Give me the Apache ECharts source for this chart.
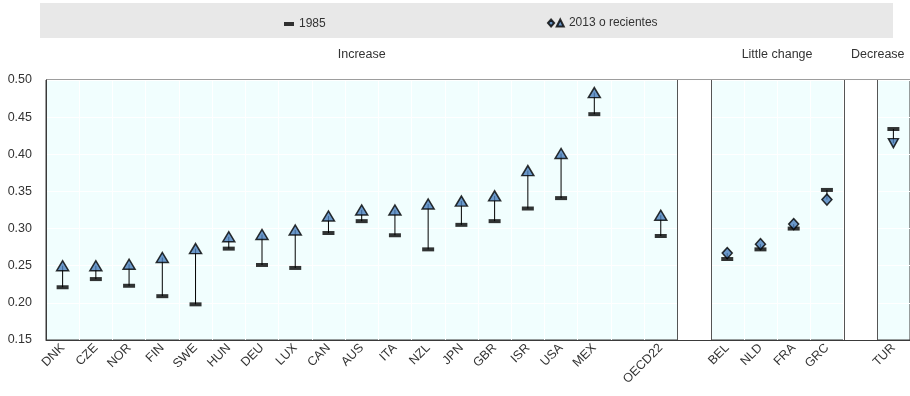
<!DOCTYPE html>
<html>
<head>
<meta charset="utf-8">
<script src="https://cdn.jsdelivr.net/npm/echarts@6/dist/echarts.min.js"></script>
<style>
  html, body { margin: 0; padding: 0; background: #ffffff; }
  #chart { width: 910px; height: 396px; }
</style>
</head>
<body>
<div id="chart"></div>
<script>
// Countries where inequality increased, with 1985 and 2013 (or latest) values
const increaseCountries = ['DNK','CZE','NOR','FIN','SWE','HUN','DEU','LUX','CAN','AUS','ITA','NZL','JPN','GBR','ISR','USA','MEX'];
const increase1985 = [0.221,0.232,0.223,0.209,0.198,0.273,0.251,0.247,0.294,0.310,0.291,0.272,0.305,0.310,0.327,0.341,0.454];
const increase2013 = [0.250,0.250,0.252,0.261,0.273,0.289,0.292,0.298,0.317,0.325,0.325,0.333,0.337,0.344,0.378,0.401,0.483];

// OECD average (part of the "Increase" block)
const oecdCountries = ['OECD22'];
const oecd1985 = [0.290];
const oecd2013 = [0.318];

// Little change
const littleCountries = ['BEL','NLD','FRA','GRC'];
const little1985 = [0.259,0.272,0.300,0.352];
const little2013 = [0.267,0.279,0.306,0.339];

// Decrease
const decreaseCountries = ['TUR'];
const decrease1985 = [0.434];
const decrease2013 = [0.415];

// Y axis ticks
const yTicks = [0.15, 0.20, 0.25, 0.30, 0.35, 0.40, 0.45, 0.50];

const groupTitles = ['Increase', 'Little change', 'Decrease'];
const seriesNames = ['1985', '2013 o recientes'];

// ---- build category axis: blank slots separate the blocks ----
const GAP = ' ', SEP1 = '  ', SEP2 = '   ';
const categories = [].concat(increaseCountries, [GAP], oecdCountries, [SEP1],
                             littleCountries, [SEP2], decreaseCountries);
const separatorSlots = [categories.indexOf(SEP1), categories.indexOf(SEP2)];

const values1985 = [].concat(increase1985, [null], oecd1985, [null], little1985, [null], decrease1985);
const values2013 = [].concat(increase2013, [null], oecd2013, [null], little2013, [null], decrease2013);
const shapeKind = [].concat(increaseCountries.map(() => 'up'), [null], oecdCountries.map(() => 'up'), [null],
                            littleCountries.map(() => 'flat'), [null], decreaseCountries.map(() => 'down'));

const groupRanges = [
  [increaseCountries[0], oecdCountries[oecdCountries.length - 1]],
  [littleCountries[0], littleCountries[littleCountries.length - 1]],
  [decreaseCountries[0], decreaseCountries[decreaseCountries.length - 1]]
];

const FONT = '"Liberation Sans", Arial, sans-serif';
const TEXT = '#333333';
const MARKER_BLUE = '#4a7ebb';

const yMin = yTicks[0], yMax = yTicks[yTicks.length - 1];

const chart = echarts.init(document.getElementById('chart'), null, { renderer: 'canvas' });

const option = {
  animation: false,
  textStyle: { fontFamily: FONT },
  graphic: [],
  legend: [
    {
      data: [seriesNames[0]],
      left: 279, top: 13,
      icon: 'rect', itemWidth: 10, itemHeight: 4, itemGap: 4,
      textStyle: { fontSize: 12, color: TEXT, fontFamily: FONT },
      selectedMode: false
    },
    {
      data: [seriesNames[1]],
      left: 542, top: 12,
      // small diamond followed by a small triangle
      icon: 'path://M0,4 L3.5,0 L7,4 L3.5,8 Z M10,8 L14,0 L18,8 Z',
      itemWidth: 16, itemHeight: 7, itemGap: 3,
      textStyle: { fontSize: 12, color: TEXT, fontFamily: FONT },
      selectedMode: false
    }
  ],
  grid: {
    left: 46, right: -2, top: 80, bottom: 56,
    show: true, backgroundColor: '#f1fefe',
    borderColor: '#3a3a3a', borderWidth: 1
  },
  xAxis: {
    type: 'category',
    data: categories,
    boundaryGap: true,
    axisLine: { show: true, lineStyle: { color: '#3a3a3a', width: 1 } },
    axisTick: { show: false },
    splitLine: { show: true, interval: 0, lineStyle: { color: '#ffffff', width: 1 } },
    axisLabel: {
      interval: 0, rotate: 45, margin: 6,
      fontSize: 12.5, color: TEXT, fontFamily: FONT
    }
  },
  yAxis: {
    type: 'value',
    min: yMin, max: yMax, interval: 0.05,
    axisLine: { show: true, lineStyle: { color: '#3a3a3a' } },
    axisTick: { show: false },
    splitLine: { show: true, lineStyle: { color: '#ffffff', width: 1 } },
    axisLabel: {
      margin: 14, fontSize: 12.5, color: TEXT, fontFamily: FONT,
      formatter: v => v.toFixed(2)
    }
  },
  series: [
    {
      // white separator slots between blocks
      type: 'custom',
      name: 'separators',
      silent: true,
      z: 1,
      data: separatorSlots.map(i => [i, yMin]),
      encode: { x: 0, y: 1 },
      renderItem: function (params, api) {
        const cs = params.coordSys;
        const cx = api.coord([api.value(0), yMin])[0];
        const w = api.size([1, 0])[0];
        const x0 = Math.round(cx - w / 2) + 0.5, x1 = Math.round(cx + w / 2) + 0.5;
        return {
          type: 'group',
          children: [
            { type: 'rect', shape: { x: x0, y: cs.y, width: x1 - x0, height: cs.height },
              style: { fill: '#ffffff' } },
            { type: 'line', shape: { x1: x0, y1: cs.y, x2: x0, y2: cs.y + cs.height },
              style: { stroke: '#555555', lineWidth: 1 } },
            { type: 'line', shape: { x1: x1, y1: cs.y, x2: x1, y2: cs.y + cs.height },
              style: { stroke: '#555555', lineWidth: 1 } }
          ]
        };
      }
    },
    {
      // vertical link from the 1985 value to the latest value
      type: 'custom',
      name: 'links',
      silent: true,
      z: 2,
      data: categories.map((c, i) => values1985[i] == null ? null : [i, values1985[i], values2013[i]])
                      .filter(d => d),
      encode: { x: 0, y: [1, 2] },
      renderItem: function (params, api) {
        const p0 = api.coord([api.value(0), api.value(1)]);
        const p1 = api.coord([api.value(0), api.value(2)]);
        return {
          type: 'line',
          shape: { x1: p0[0], y1: p0[1], x2: p1[0], y2: p1[1] },
          style: { stroke: '#000000', lineWidth: 1 }
        };
      }
    },
    {
      name: seriesNames[0],
      type: 'scatter',
      z: 3,
      symbol: 'rect',
      symbolSize: [12, 4],
      itemStyle: { color: '#000000' },
      data: values1985
    },
    {
      name: seriesNames[1],
      type: 'scatter',
      z: 4,
      itemStyle: { color: MARKER_BLUE, borderColor: '#000000', borderWidth: 1.5 },
      data: values2013.map((v, i) => {
        if (v == null) return null;
        const k = shapeKind[i];
        if (k === 'flat') return { value: v, symbol: 'diamond', symbolSize: [10, 11] };
        if (k === 'down') return { value: v, symbol: 'triangle', symbolSize: [10, 9], symbolRotate: 180 };
        return { value: v, symbol: 'triangle', symbolSize: [12, 10] };
      })
    }
  ]
};

chart.setOption(option);

// legend backdrop and block titles placed from the axis positions
const titleGraphics = [{
  type: 'rect', z: -10, silent: true,
  shape: { x: 40, y: 3, width: 853, height: 35 },
  style: { fill: '#e8e8e8' }
}];
const halfSlot = (chart.convertToPixel({ xAxisIndex: 0 }, categories[1]) -
                  chart.convertToPixel({ xAxisIndex: 0 }, categories[0])) / 2;
groupRanges.forEach((r, gi) => {
  const a = chart.convertToPixel({ xAxisIndex: 0 }, r[0]) - halfSlot;
  const b = chart.convertToPixel({ xAxisIndex: 0 }, r[1]) + halfSlot;
  let cx = (a + b) / 2;
  const limit = 905;
  const approxHalf = groupTitles[gi].length * 3.4;
  if (cx + approxHalf > limit) cx = limit - approxHalf;
  titleGraphics.push({
    type: 'text', silent: true,
    x: cx, y: 55,
    style: {
      text: groupTitles[gi], fill: TEXT, font: '12.5px ' + FONT,
      textAlign: 'center', textVerticalAlign: 'middle'
    }
  });
});
chart.setOption({ graphic: titleGraphics });
</script>
</body>
</html>
